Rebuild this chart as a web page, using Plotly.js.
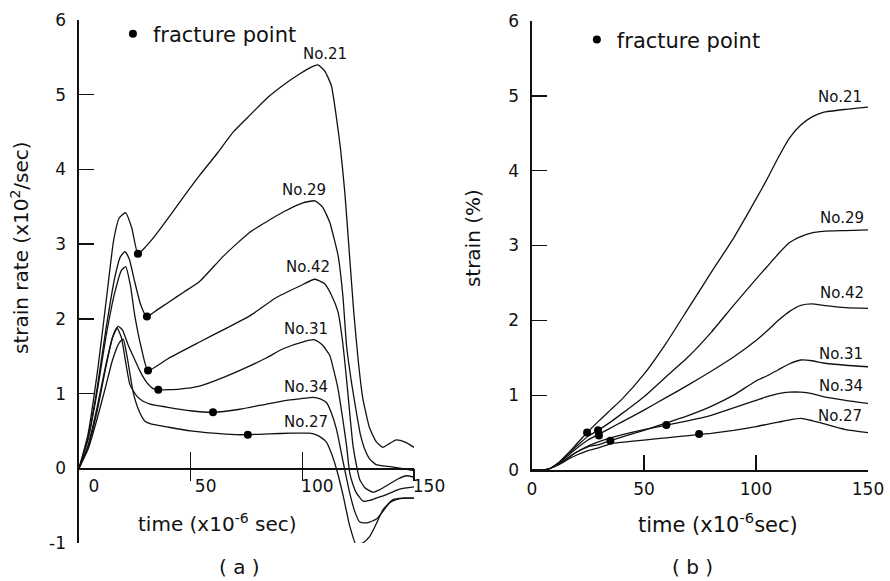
<!DOCTYPE html>
<html>
<head>
<meta charset="utf-8">
<script src="https://cdn.plot.ly/plotly-3.0.1.min.js"></script>
<style>html,body{margin:0;padding:0;background:#fff}#chart{width:890px;height:581px}</style>
</head>
<body>
<div id="chart"></div>
<script>
// ---------- (a) strain rate (x10^2 /sec) vs time (x10^-6 sec) ----------
const rateT21 = [0,4,8.6,13,15.5,18,20.9,23.6,26.4,30,34,40,46,54,62,69,77,84,92,98.9,104,107,110,113,115,117,119,121,123,125,127,130,133,136,139,142,146,150];
const rate21  = [0,0.45,1.37,2.45,3.05,3.35,3.42,3.22,2.87,2.97,3.11,3.35,3.6,3.92,4.22,4.5,4.74,4.95,5.14,5.28,5.37,5.40,5.32,5.12,4.75,4.3,3.7,2.9,2.1,1.45,0.95,0.55,0.36,0.28,0.33,0.38,0.35,0.28];

const rateT29 = [0,4,8,12,16,18.5,20.6,22.5,25,27.5,30.3,35,40,47,54,65,76.5,84,91.4,100,105.6,109,112.3,114,116,118.2,119.8,122,124.2,126,128,130,133,140,150];
const rate29  = [0,0.4,1.05,1.85,2.55,2.83,2.9,2.8,2.49,2.2,2.03,2.12,2.22,2.36,2.5,2.85,3.16,3.3,3.43,3.55,3.58,3.5,3.29,3.1,2.85,2.29,1.64,1.15,0.75,0.45,0.25,0.13,0.05,0.02,-0.03];

const rateT42 = [0,4,8,12,16,19,20.9,23,25,28,30.9,40,54,65,76.5,88,98.9,105.6,110,113,116,118,119.8,121.5,122.7,124.5,125.7,128,131.7,135,139,143,146.6,150];
const rate42  = [0,0.38,1.0,1.75,2.35,2.65,2.70,2.45,2.04,1.6,1.31,1.47,1.69,1.86,2.04,2.28,2.44,2.53,2.47,2.32,2.09,1.7,1.19,0.65,0.3,0.0,-0.15,-0.26,-0.32,-0.28,-0.21,-0.14,-0.10,-0.12];

const rateT31 = [0,4,8,12,15,17.5,19.5,22,25,27.3,30.3,33,35.5,45,54,65,76.5,84,91.4,100,105.6,109,112.3,114,116,118,119.8,121.2,122.7,124.2,127.2,130,133,136.2,143.6,150];
const rate31  = [0,0.3,0.8,1.38,1.75,1.9,1.85,1.65,1.45,1.3,1.15,1.07,1.05,1.06,1.10,1.22,1.37,1.48,1.60,1.69,1.72,1.65,1.51,1.32,1.06,0.68,0.30,-0.06,-0.22,-0.33,-0.44,-0.43,-0.40,-0.37,-0.28,-0.25];

const rateT34 = [0,4,8,12,15,17,19,21,22.8,25.8,28.5,31.8,39.2,50,60,72,84,93,98.9,104.8,108,110.8,113,115.3,118.3,121.2,123.5,125.7,129,133.2,136,139.1,142,146,150];
const rate34  = [0,0.28,0.75,1.35,1.75,1.88,1.75,1.4,1.12,0.97,0.9,0.86,0.82,0.77,0.75,0.79,0.86,0.91,0.93,0.95,0.93,0.88,0.74,0.52,0.08,-0.33,-0.58,-0.72,-0.73,-0.68,-0.58,-0.46,-0.42,-0.40,-0.40];

const rateT27 = [0,4,8,12,15,18,19.8,21.5,24.3,27,29.5,32.5,40,50,60,70,75.6,85,95,103,106,108.5,110.8,113,115.3,118.3,121.2,124.2,127,130.2,133,136.2,140.6,145,150];
const rate27  = [0,0.25,0.65,1.1,1.45,1.68,1.73,1.5,1.01,0.76,0.63,0.59,0.55,0.5,0.47,0.45,0.45,0.46,0.47,0.47,0.45,0.41,0.35,0.2,-0.01,-0.37,-0.77,-1.03,-1.0,-0.91,-0.75,-0.55,-0.42,-0.40,-0.40];

const fracTimeA = [26.4,30.4,30.9,35.5,60,75.6];
const fracRate  = [2.87,2.03,1.31,1.05,0.75,0.45];

// ---------- (b) strain (%) vs time ----------
const strainT  = [0,5,8,12,16,20,25,30,35,40,50,60,70,80,90,100,105,110,115,120,125,130,140,150];
const strain21 = [0,0,0.02,0.1,0.22,0.35,0.51,0.66,0.80,0.94,1.28,1.70,2.17,2.64,3.10,3.62,3.89,4.18,4.44,4.61,4.72,4.78,4.82,4.85];
const strain29 = [0,0,0.02,0.1,0.21,0.32,0.45,0.54,0.64,0.75,0.98,1.25,1.52,1.84,2.20,2.55,2.72,2.89,3.04,3.12,3.17,3.19,3.20,3.21];
const strain42 = [0,0,0.02,0.09,0.19,0.29,0.40,0.48,0.56,0.64,0.80,0.97,1.14,1.32,1.51,1.73,1.86,2.00,2.12,2.20,2.22,2.20,2.17,2.16];
const strain31 = [0,0,0.02,0.08,0.16,0.24,0.31,0.34,0.39,0.44,0.53,0.63,0.73,0.85,1.00,1.19,1.26,1.34,1.42,1.47,1.46,1.43,1.40,1.38];
const strain34 = [0,0,0.02,0.08,0.16,0.24,0.32,0.38,0.43,0.47,0.54,0.60,0.66,0.73,0.83,0.93,0.98,1.02,1.04,1.04,1.02,0.98,0.93,0.89];
const strain27 = [0,0,0.02,0.07,0.14,0.20,0.26,0.30,0.35,0.37,0.40,0.43,0.46,0.49,0.53,0.58,0.61,0.64,0.67,0.69,0.66,0.62,0.54,0.50];

const fracTimeB = [24.6,29.5,29.9,35,60,74.6];
const fracStrain = [0.50,0.53,0.46,0.39,0.60,0.48];

// labels
const seriesNames = ['No.21','No.29','No.42','No.31','No.34','No.27'];
const labelPosA = [[110,5.55],[100.7,3.73],[102.5,2.70],[101.6,1.86],[101.6,1.09],[101.6,0.62]];
const labelPosB = [[137.5,4.99],[138.4,3.37],[138.4,2.36],[138,1.55],[138,1.12],[137.5,0.72]];
const ticksRate = [-1,0,1,2,3,4,5,6];
const ticksStrain = [0,1,2,3,4,5,6];
const ticksTime = [0,50,100,150];

const FONT = 'DejaVu Sans, sans-serif';
const lineStyle = {color:'#111', width:1.3, shape:'spline', smoothing:0.5};

const rateX = [rateT21,rateT29,rateT42,rateT31,rateT34,rateT27];
const rateY = [rate21,rate29,rate42,rate31,rate34,rate27];
const strainY = [strain21,strain29,strain42,strain31,strain34,strain27];

const traces = [];
seriesNames.forEach((n,i)=>{
  traces.push({x:rateX[i], y:rateY[i], type:'scatter', mode:'lines', line:lineStyle, xaxis:'x', yaxis:'y', showlegend:false, name:n, hoverinfo:'skip'});
});
seriesNames.forEach((n,i)=>{
  traces.push({x:strainT, y:strainY[i], type:'scatter', mode:'lines', line:lineStyle, xaxis:'x2', yaxis:'y2', showlegend:false, name:n, hoverinfo:'skip'});
});
traces.push({x:fracTimeA, y:fracRate, type:'scatter', mode:'markers', marker:{color:'#000', size:8}, xaxis:'x', yaxis:'y', name:'fracture point', legend:'legend', showlegend:true});
traces.push({x:fracTimeB, y:fracStrain, type:'scatter', mode:'markers', marker:{color:'#000', size:8}, xaxis:'x2', yaxis:'y2', name:'fracture point', legend:'legend2', showlegend:true});
// helper subplots whose bottom edge is rate = 0 (carry the time axis of panel a)
traces.push({x:[], y:[], type:'scatter', mode:'lines', xaxis:'x3', yaxis:'y3', showlegend:false, hoverinfo:'skip'});
traces.push({x:[], y:[], type:'scatter', mode:'lines', xaxis:'x4', yaxis:'y3', showlegend:false, hoverinfo:'skip'});

const annotations = [];
seriesNames.forEach((n,i)=>{
  annotations.push({x:labelPosA[i][0], y:labelPosA[i][1], xref:'x', yref:'y', text:n, showarrow:false, font:{family:FONT, size:15, color:'#111'}});
  annotations.push({x:labelPosB[i][0], y:labelPosB[i][1], xref:'x2', yref:'y2', text:n, showarrow:false, font:{family:FONT, size:15, color:'#111'}});
});
const tfont = {family:FONT, size:20, color:'#111'};
function ann(x,y,text,font,angle){
  return {x:x, y:y, xref:'paper', yref:'paper', xanchor:'center', yanchor:'middle', text:text, textangle:angle||0, showarrow:false, font:font};
}
annotations.push(ann(-0.0748, 0.566, 'strain rate (x10<sup>2</sup>/sec)', tfont, -90));
annotations.push(ann(0.176, 0.038, 'time (x10<sup>-6</sup> sec)', {family:FONT, size:20, color:'#111'}));
annotations.push(ann(0.2028, -0.046, '( a )', tfont));
annotations.push(ann(-0.0748+0.5742, 0.583, 'strain (%)', tfont, -90));
annotations.push(ann(0.81, 0.038, 'time (x10<sup>-6</sup>sec)', {family:FONT, size:21, color:'#111'}));
annotations.push(ann(0.778, -0.046, '( b )', tfont));

const tickFont = {family:FONT, size:17, color:'#111'};
const hidden = {showline:false, ticks:'', showticklabels:false, showgrid:false, zeroline:false};
const layout = {
  width:890, height:581,
  margin:{l:79, r:22, t:20, b:38},
  paper_bgcolor:'#fff', plot_bgcolor:'rgba(0,0,0,0)',
  font:{family:FONT, color:'#111'},
  xaxis:{domain:[0,0.4246], range:[0,150], anchor:'y', ...hidden},
  yaxis:{domain:[0,1], range:[-1,6], anchor:'x', showline:true, linecolor:'#111', linewidth:1.6,
         ticks:'inside', ticklen:15, tickwidth:1.3, tickcolor:'#111', tickvals:ticksRate, ticktext:ticksRate.map(String),
         ticklabelstandoff:8, tickfont:tickFont, showgrid:false, zeroline:false},
  // time axis of panel (a), sitting on rate = 0
  xaxis3:{domain:[0,0.4246], range:[0,150], anchor:'y3', showline:true, linecolor:'#111', linewidth:1.6,
         ticks:'inside', ticklen:16, tickwidth:1.3, tickcolor:'#111', tickvals:ticksTime, ticktext:ticksTime.map(String),
         ticklabelshift:15, ticklabelstandoff:2, tickfont:tickFont, showgrid:false, zeroline:false},
  xaxis4:{domain:[0,0.4246], range:[0,150], anchor:'y3', showline:false,
         ticks:'outside', ticklen:12, tickwidth:1.3, tickcolor:'#111', tickvals:[50,100,150], showticklabels:false, showgrid:false, zeroline:false},
  yaxis3:{domain:[1/7,1], range:[0,6], anchor:'x3', ...hidden},
  xaxis2:{domain:[0.5741,1], range:[0,150], anchor:'y2', showline:true, linecolor:'#111', linewidth:1.6,
         ticks:'inside', ticklen:15, tickwidth:1.3, tickcolor:'#111', tickvals:ticksTime, ticktext:ticksTime.map(String),
         ticklabelstandoff:3, tickfont:tickFont, showgrid:false, zeroline:false},
  yaxis2:{domain:[0.1396,0.998], range:[0,6], anchor:'x2', showline:true, linecolor:'#111', linewidth:1.6,
         ticks:'inside', ticklen:15, tickwidth:1.3, tickcolor:'#111', tickvals:ticksStrain, ticktext:ticksStrain.map(String),
         ticklabelstandoff:8, tickfont:tickFont, showgrid:false, zeroline:false},
  legend:{x:0.043, y:0.973, xanchor:'left', yanchor:'middle', bgcolor:'rgba(0,0,0,0)', font:{family:FONT, size:21, color:'#111'}},
  legend2:{x:0.631, y:0.962, xanchor:'left', yanchor:'middle', bgcolor:'rgba(0,0,0,0)', font:{family:FONT, size:21, color:'#111'}},
  annotations:annotations,
  showlegend:true
};
Plotly.newPlot('chart', traces, layout, {displayModeBar:false, staticPlot:true});
</script>
</body>
</html>
